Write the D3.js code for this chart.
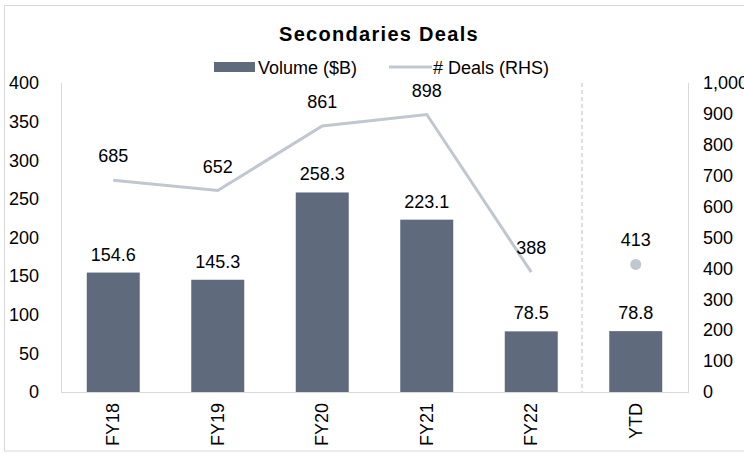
<!DOCTYPE html>
<html>
<head>
<meta charset="utf-8">
<script src="https://cdn.jsdelivr.net/npm/d3@7"></script>
<style>
  body { margin: 0; background: #fff; }
  text { font-family: "Liberation Sans", Arial, sans-serif; fill: #000; }
</style>
</head>
<body>
<svg id="chart" width="744" height="453"></svg>
<script>
// chart data
const categories = ["FY18", "FY19", "FY20", "FY21", "FY22", "YTD"];
const volume = [154.6, 145.3, 258.3, 223.1, 78.5, 78.8];
const deals = [685, 652, 861, 898, 388];   // line, FY18..FY22
const ytdDeals = 413;                       // shown as a single dot
const leftTicks = [0, 50, 100, 150, 200, 250, 300, 350, 400];
const rightTicks = [0, 100, 200, 300, 400, 500, 600, 700, 800, 900, 1000];

const barColor = "#5F6B7C";
const lineColor = "#C1C7D0";
const gridColor = "#D9D9D9";

const svg = d3.select("#chart");

// outer frame
svg.append("rect")
  .attr("x", 4.5).attr("y", 5.5)
  .attr("width", 760).attr("height", 445.5)
  .attr("fill", "none").attr("stroke", gridColor);

const plot = { left: 61, right: 688, top: 83, bottom: 392 };

const x = d3.scaleBand().domain(categories).range([plot.left, plot.right]).paddingInner(0.49).paddingOuter(0.245);
const band = d3.scaleBand().domain(categories).range([plot.left, plot.right]);
const yL = d3.scaleLinear().domain([0, 400]).range([plot.bottom, plot.top]);
const yR = d3.scaleLinear().domain([0, 1000]).range([plot.bottom, plot.top]);
const cx = d => band(d) + band.bandwidth() / 2;

// title
svg.append("text")
  .attr("x", 379).attr("y", 41)
  .attr("text-anchor", "middle")
  .style("font-size", "20px").style("font-weight", "bold").style("letter-spacing", "1.3px")
  .text("Secondaries Deals");

// legend
const lg = svg.append("g");
lg.append("rect").attr("x", 214).attr("y", 62).attr("width", 41).attr("height", 10).attr("fill", barColor);
lg.append("text").attr("x", 258).attr("y", 73.5).style("font-size", "18px").text("Volume ($B)");
lg.append("line").attr("x1", 389).attr("x2", 432).attr("y1", 67).attr("y2", 67)
  .attr("stroke", lineColor).attr("stroke-width", 3);
lg.append("text").attr("x", 433).attr("y", 73.5).style("font-size", "18px").text("# Deals (RHS)");

// axes lines
svg.append("line").attr("x1", plot.left + 0.5).attr("x2", plot.left + 0.5)
  .attr("y1", plot.top).attr("y2", plot.bottom).attr("stroke", gridColor);
svg.append("line").attr("x1", plot.right + 0.5).attr("x2", plot.right + 0.5)
  .attr("y1", plot.top).attr("y2", plot.bottom).attr("stroke", gridColor);

// dashed separator before YTD
svg.append("line")
  .attr("x1", band("YTD") - 1.5).attr("x2", band("YTD") - 1.5)
  .attr("y1", plot.top).attr("y2", plot.bottom)
  .attr("stroke", "#BFBFBF").attr("stroke-dasharray", "4,3");

// left axis
const axL = svg.append("g").attr("transform", `translate(${plot.left - 22},0)`)
  .call(d3.axisLeft(yL).tickValues(leftTicks).tickSize(0).tickPadding(0));
axL.select(".domain").remove();
axL.selectAll("text").style("font-size", "18px").style("font-family", "Liberation Sans, Arial, sans-serif").attr("fill", "#000");

// right axis
const axR = svg.append("g").attr("transform", `translate(${plot.right + 15},0)`)
  .call(d3.axisRight(yR).tickValues(rightTicks).tickSize(0).tickPadding(0).tickFormat(d3.format(",")));
axR.select(".domain").remove();
axR.selectAll("text").style("font-size", "18px").style("font-family", "Liberation Sans, Arial, sans-serif").attr("fill", "#000");

// bars
svg.selectAll(".bar").data(categories).join("rect")
  .attr("class", "bar")
  .attr("x", d => cx(d) - 26.5)
  .attr("width", 53)
  .attr("y", (d, i) => yL(volume[i]))
  .attr("height", (d, i) => plot.bottom - yL(volume[i]))
  .attr("fill", barColor);

// bottom axis line (over bars)
svg.append("line").attr("x1", plot.left).attr("x2", plot.right + 1)
  .attr("y1", plot.bottom + 0.5).attr("y2", plot.bottom + 0.5).attr("stroke", gridColor);

// bar labels
svg.selectAll(".blab").data(categories).join("text")
  .attr("class", "blab")
  .attr("x", d => cx(d))
  .attr("y", (d, i) => yL(volume[i]) - 12)
  .attr("text-anchor", "middle")
  .style("font-size", "18px")
  .text((d, i) => d3.format(".1f")(volume[i]));

// deals line
const lineData = deals.map((v, i) => ({ cat: categories[i], v }));
svg.append("path").datum(lineData)
  .attr("fill", "none").attr("stroke", lineColor).attr("stroke-width", 3)
  .attr("d", d3.line().x(d => cx(d.cat)).y(d => yR(d.v)));

svg.selectAll(".llab").data(lineData).join("text")
  .attr("class", "llab")
  .attr("x", d => cx(d.cat))
  .attr("y", d => yR(d.v) - 18)
  .attr("text-anchor", "middle")
  .style("font-size", "18px")
  .text(d => d.v);

// YTD deals dot
svg.append("circle")
  .attr("cx", cx("YTD")).attr("cy", yR(ytdDeals)).attr("r", 5.5)
  .attr("fill", lineColor);
svg.append("text")
  .attr("x", cx("YTD")).attr("y", yR(ytdDeals) - 18)
  .attr("text-anchor", "middle").style("font-size", "18px")
  .text(ytdDeals);

// category labels, rotated
svg.selectAll(".xlab").data(categories).join("text")
  .attr("class", "xlab")
  .attr("transform", d => `translate(${cx(d) + 6},403) rotate(-90)`)
  .attr("text-anchor", "end")
  .style("font-size", "18px")
  .text(d => d);
</script>
</body>
</html>
